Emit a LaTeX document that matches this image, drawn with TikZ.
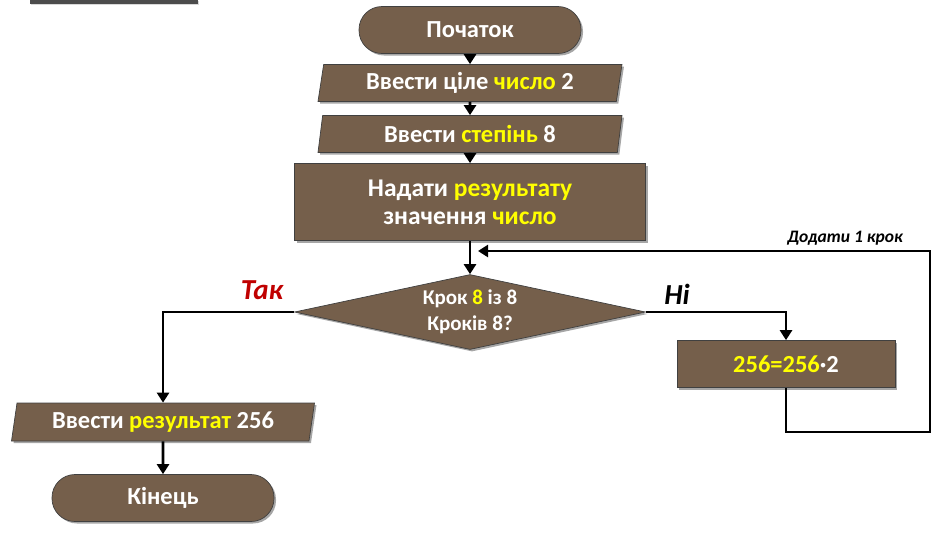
\documentclass[tikz,border=0pt]{standalone}
\usepackage{fontspec}
\setmainfont{Carlito}
\usetikzlibrary{shapes.geometric,shadows,arrows.meta}
\definecolor{brownbox}{RGB}{117,95,75}
\definecolor{hlyellow}{RGB}{255,255,0}
\definecolor{takred}{RGB}{192,0,0}
\newcommand{\hly}[1]{\textcolor{hlyellow}{#1}}
\tikzset{
  base/.style={fill=brownbox, draw=black!75, line width=0.7pt, text=white,
    font=\bfseries\fontsize{24.5}{28}\selectfont, inner sep=0pt,
    drop shadow={shadow xshift=2pt, shadow yshift=-2pt, opacity=0.35, fill=black}},
  term/.style={base, rectangle, rounded corners=23pt, minimum width=222pt, minimum height=47pt},
  io/.style={base, trapezium, trapezium left angle=75, trapezium right angle=105,
    trapezium stretches body, minimum height=37pt},
  procbox/.style={base, rectangle},
  cond/.style={base, diamond, shape aspect=4.7, minimum width=351pt, minimum height=75pt,
    font=\bfseries\fontsize{21}{26}\selectfont, align=center},
  flow/.style={line width=2.8pt, -{Triangle[length=10pt,width=12pt]}},
  lbl/.style={font=\bfseries\itshape\fontsize{29}{30}\selectfont},
}
\begin{document}
\begin{tikzpicture}[x=1pt,y=-1pt]
\useasboundingbox (0,0) rectangle (940,542);
% top-left fragment
\fill[black!70, drop shadow={shadow xshift=1pt, shadow yshift=-1pt, opacity=0.3}] (30,0) rectangle (198,4);

\node[term] (start) at (470,30) {Початок};
\node[io, minimum width=304pt] (in1) at (470,83) {Ввести ціле \hly{число} 2};
\node[io, minimum width=304pt] (in2) at (470,134) {Ввести \hly{степінь} 8};
\node[procbox, minimum width=351pt, minimum height=77pt, align=center,
  font=\bfseries\fontsize{25.5}{28}\selectfont] (init) at (470,202)
  {Надати \hly{результату}\\значення \hly{число}};
\node[cond] (dec) at (470,312) {Крок \hly{8} із 8\\Кроків 8?};
\node[procbox, minimum width=218pt, minimum height=47pt] (calc) at (786,364) {\hly{256=256}·2};
\node[io, minimum width=303pt, minimum height=38pt] (out) at (163,422) {Ввести \hly{результат} 256};
\node[term] (stop) at (163,498) {Кінець};

\coordinate (lr) at (930,432);
\coordinate (la) at (478,251);

\draw[flow] (start) -- (in1);
\draw[flow] (in1) -- (in2);
\draw[flow] (in2) -- (init);
\draw[flow] (init) -- (dec);
\draw[flow] (dec.west) -| (out.north);
\draw[flow] (out) -- (stop);
\draw[flow] (dec.east) -| (calc.north);
\draw[flow] (calc.south) |- (lr) |- (la);

\node[lbl, text=takred] (tak) at (262,290) {Так};
\node[lbl] (ni) at (677,294) {Ні};
\node[font=\bfseries\itshape\fontsize{17.5}{19}\selectfont] (add) at (845,238) {Додати 1 крок};
\end{tikzpicture}
\end{document}
